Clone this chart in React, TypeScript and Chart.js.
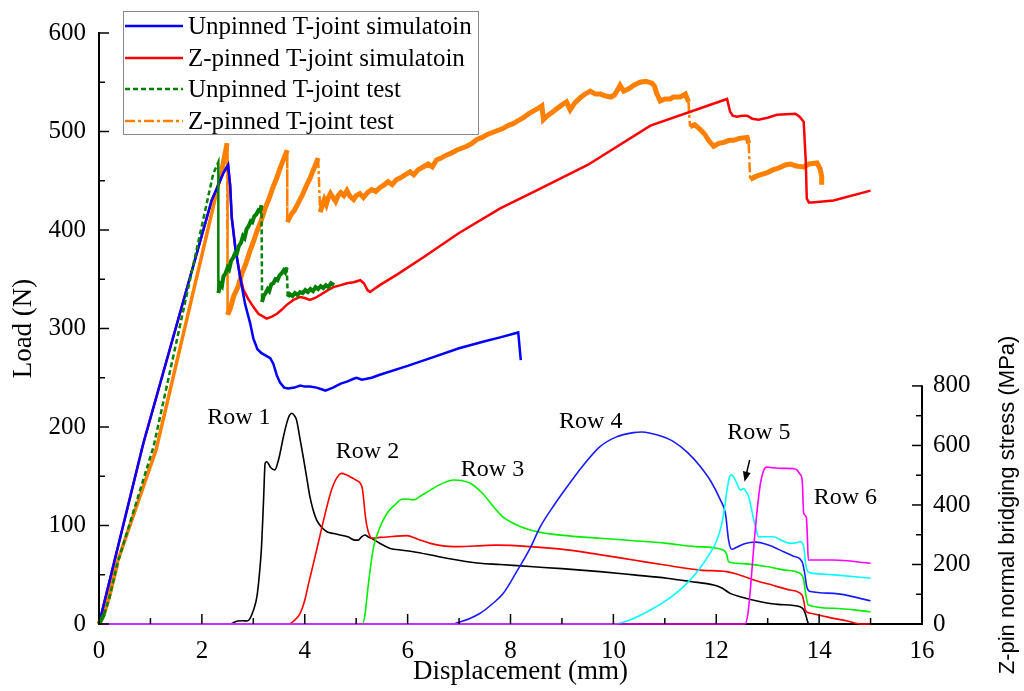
import React, { useEffect, useRef } from 'react';
import { Chart, registerables } from 'chart.js';

Chart.register(...registerables);

type P = [number, number];

// ---------- axis ticks ----------
const xTicks = [0, 2, 4, 6, 8, 10, 12, 14, 16];
const xMinorTicks = [1, 3, 5, 7, 9, 11, 13, 15];
const loadTicks = [0, 100, 200, 300, 400, 500, 600];
const loadMinorTicks = [50, 150, 250, 350, 450, 550];
const stressTicks = [0, 200, 400, 600, 800];
const stressMinorTicks = [100, 300, 500, 700];
const stressAxisMax = 1986; // right axis value at the top of the plot

// ---------- load curves (x: mm, y: N) ----------
const unpinnedSim: P[] = [
  [0, 0], [0.86, 183], [2.19, 430], [2.42, 458], [2.51, 466], [2.55, 445], [2.58, 413], [2.65, 382],
  [2.74, 353], [2.84, 325], [2.94, 305], [3.0, 290], [3.08, 279], [3.16, 275], [3.26, 272], [3.33, 270],
  [3.39, 264], [3.46, 252], [3.52, 245], [3.6, 240], [3.68, 239], [3.8, 240], [3.91, 242], [4.0, 241],
  [4.1, 241], [4.23, 240], [4.4, 237], [4.55, 240], [4.7, 244], [4.82, 246], [4.95, 249], [5.01, 250],
  [5.11, 248], [5.3, 250], [5.46, 253], [6.0, 262], [6.5, 271], [7.0, 280], [7.5, 287], [7.8, 291],
  [8.15, 296], [8.2, 268],
];

const zpinnedSim: P[] = [
  [0, 0], [0.86, 183], [2.19, 430], [2.42, 458], [2.51, 466], [2.55, 445], [2.58, 413], [2.65, 382],
  [2.74, 354], [2.81, 339], [2.9, 330], [3.0, 322], [3.1, 315], [3.26, 310], [3.36, 312], [3.46, 315],
  [3.55, 319], [3.65, 324], [3.78, 329], [3.91, 332], [4.0, 331], [4.1, 329], [4.2, 331], [4.3, 334],
  [4.45, 339], [4.56, 342], [4.7, 344], [4.82, 346], [4.95, 347], [5.08, 349], [5.15, 346], [5.22, 339],
  [5.27, 337], [5.35, 340], [5.46, 344], [5.8, 355], [6.3, 372], [7.0, 397], [7.8, 422], [8.5, 440],
  [9.5, 466], [10.72, 506], [12.21, 533], [12.27, 520], [12.32, 516], [12.4, 515], [12.5, 516], [12.6, 516],
  [12.7, 513], [12.82, 512], [13.0, 514], [13.18, 517], [13.54, 518], [13.62, 515], [13.7, 510], [13.74, 470],
  [13.76, 432], [13.8, 428], [13.86, 428], [14.28, 430], [15.0, 440],
];

const unpinnedTest: P[] = [
  [0, 0], [0.1, 10], [0.2, 26], [0.35, 60], [1.06, 180], [2.22, 457], [2.32, 469], [2.32, 336],
  [2.36, 345], [2.39, 343], [2.42, 353], [2.46, 356], [2.5, 362], [2.53, 360], [2.57, 369], [2.61, 372],
  [2.65, 377], [2.68, 376], [2.72, 384], [2.76, 387], [2.8, 394], [2.83, 392], [2.87, 401], [2.91, 404],
  [2.95, 409], [2.98, 408], [3.02, 414], [3.06, 416], [3.1, 420], [3.13, 419], [3.16, 425], [3.17, 327],
  [3.2, 333], [3.24, 336], [3.28, 340], [3.31, 338], [3.35, 345], [3.39, 346], [3.43, 350], [3.47, 349],
  [3.51, 354], [3.55, 356], [3.59, 359], [3.62, 357], [3.65, 362], [3.67, 332], [3.71, 335], [3.76, 333],
  [3.81, 336], [3.86, 334], [3.91, 337], [3.96, 336], [4.01, 339], [4.06, 337], [4.11, 340], [4.16, 338],
  [4.21, 342], [4.26, 340], [4.31, 343], [4.36, 341], [4.41, 344], [4.46, 342], [4.51, 346], [4.57, 344],
];

const zpinnedTest: P[] = [
  [0, 0], [0.1, 12], [0.2, 30], [0.35, 62], [1.11, 177], [2.39, 461], [2.49, 488], [2.5, 314],
  [2.55, 320], [2.62, 333], [2.7, 342], [2.78, 356], [2.85, 365], [2.93, 378], [3.0, 388], [3.08, 400],
  [3.15, 409], [3.23, 422], [3.3, 431], [3.38, 443], [3.45, 452], [3.53, 464], [3.62, 476], [3.66, 481],
  [3.66, 408], [3.7, 412], [3.75, 417], [3.8, 420], [3.85, 425], [3.9, 430], [3.95, 435], [4.0, 441],
  [4.05, 447], [4.1, 452], [4.15, 459], [4.2, 465], [4.26, 473], [4.3, 418], [4.34, 425], [4.38, 431],
  [4.42, 426], [4.46, 433], [4.5, 437], [4.55, 433], [4.6, 429], [4.65, 435], [4.7, 438], [4.76, 435],
  [4.82, 440], [4.88, 434], [4.95, 431], [5.0, 435], [5.07, 437], [5.14, 433], [5.22, 438], [5.3, 441],
  [5.38, 439], [5.46, 443], [5.55, 446], [5.62, 449], [5.7, 446], [5.78, 451], [5.86, 453], [5.95, 456],
  [6.05, 459], [6.12, 456], [6.2, 461], [6.3, 464], [6.4, 467], [6.48, 464], [6.56, 471], [6.65, 473],
  [6.75, 476], [6.85, 478], [6.95, 481], [7.05, 483], [7.15, 485], [7.25, 488], [7.35, 492], [7.45, 494],
  [7.55, 497], [7.65, 499], [7.75, 501], [7.85, 503], [7.95, 506], [8.05, 508], [8.15, 511], [8.25, 514],
  [8.35, 518], [8.45, 521], [8.55, 524], [8.61, 526], [8.64, 512], [8.72, 516], [8.8, 519], [8.9, 523],
  [9.0, 527], [9.09, 530], [9.16, 522], [9.25, 529], [9.35, 534], [9.45, 538], [9.55, 541], [9.65, 538],
  [9.75, 538], [9.85, 536], [9.95, 535], [10.02, 537], [10.1, 544], [10.13, 547], [10.2, 541], [10.29, 543],
  [10.4, 547], [10.52, 550], [10.63, 551], [10.75, 549], [10.8, 546], [10.84, 539], [10.91, 531], [11.0, 533],
  [11.1, 533], [11.17, 535], [11.3, 535], [11.4, 538], [11.46, 530], [11.49, 505], [11.58, 507], [11.69, 502],
  [11.78, 497], [11.85, 491], [11.95, 485], [12.05, 488], [12.15, 489], [12.25, 491], [12.34, 491], [12.45, 493],
  [12.6, 494], [12.63, 488], [12.66, 451], [12.75, 454], [12.85, 456], [12.98, 458], [13.1, 461], [13.22, 463],
  [13.34, 466], [13.44, 467], [13.55, 465], [13.7, 464], [13.8, 467], [13.96, 468], [14.02, 462], [14.05, 454],
  [14.05, 446],
];

// ---------- Z-pin bridging stress (x: mm, y: MPa) ----------
const row1: P[] = [
  [0, 0], [2.55, 0], [2.62, 5], [2.7, 10], [2.8, 11], [2.88, 10], [2.94, 20], [3.0, 45], [3.07, 92],
  [3.12, 170], [3.16, 260], [3.2, 420], [3.23, 540], [3.26, 545], [3.34, 525], [3.42, 518], [3.48, 545],
  [3.52, 574], [3.58, 625], [3.65, 675], [3.7, 700], [3.75, 708], [3.8, 700], [3.84, 686], [3.9, 630],
  [3.97, 562], [4.04, 490], [4.1, 428], [4.16, 385], [4.23, 350], [4.33, 325], [4.43, 310], [4.56, 304],
  [4.69, 299], [4.85, 292], [4.97, 282], [5.04, 282], [5.1, 292], [5.17, 299], [5.24, 292], [5.3, 288],
  [5.45, 272], [5.66, 254], [5.9, 248], [6.11, 243], [6.45, 232], [6.76, 221], [7.1, 211], [7.41, 204],
  [7.8, 200], [8.38, 193], [9.0, 186], [9.74, 176], [10.4, 165], [11.04, 154], [11.5, 143], [11.95, 131],
  [12.1, 122], [12.27, 103], [12.5, 90], [12.86, 75], [13.2, 66], [13.63, 58], [13.7, 48], [13.73, 36],
  [13.76, 18], [13.79, 2], [13.82, 0], [15.0, 0],
];

const row2: P[] = [
  [0, 0], [3.65, 0], [3.72, 2], [3.8, 12], [3.91, 36], [4.0, 80], [4.08, 140], [4.17, 204], [4.3, 300],
  [4.43, 394], [4.52, 450], [4.62, 490], [4.72, 506], [4.8, 502], [4.88, 495], [4.98, 485], [5.08, 473],
  [5.12, 455], [5.14, 428], [5.17, 375], [5.21, 327], [5.26, 298], [5.3, 288], [5.46, 291], [5.7, 294],
  [5.98, 297], [6.2, 285], [6.44, 271], [6.89, 260], [7.3, 262], [7.73, 265], [8.38, 260], [9.1, 249],
  [9.7, 234], [10.39, 215], [11.0, 198], [11.69, 181], [12.2, 176], [12.45, 165], [12.73, 148], [13.1, 130],
  [13.44, 114], [13.67, 97], [13.71, 70], [13.73, 47], [13.83, 36], [14.05, 28], [14.28, 19], [14.55, 10],
  [14.8, 0], [15.0, 0],
];

const row3: P[] = [
  [0, 0], [5.12, 0], [5.17, 30], [5.21, 92], [5.27, 180], [5.34, 260], [5.45, 320], [5.6, 372], [5.75, 400],
  [5.89, 419], [6.0, 420], [6.11, 417], [6.25, 430], [6.44, 450], [6.65, 470], [6.89, 484], [7.05, 482],
  [7.22, 473], [7.45, 440], [7.67, 394], [7.85, 360], [8.06, 338], [8.38, 316], [8.8, 302], [9.74, 288],
  [10.4, 280], [11.04, 271], [11.6, 260], [12.14, 249], [12.2, 235], [12.24, 209], [12.5, 203], [12.98, 193],
  [13.3, 182], [13.63, 170], [13.7, 148], [13.74, 100], [13.79, 64], [14.28, 53], [15.0, 41],
];

const row4: P[] = [
  [0, 0], [6.9, 0], [6.96, 4], [7.2, 18], [7.41, 36], [7.65, 68], [7.86, 103], [8.1, 170], [8.38, 254],
  [8.58, 327], [8.85, 400], [9.1, 461], [9.4, 530], [9.74, 596], [10.05, 628], [10.39, 643], [10.55, 645],
  [10.72, 641], [10.95, 630], [11.17, 613], [11.45, 575], [11.69, 529], [11.9, 478], [12.08, 417], [12.18, 370],
  [12.24, 282], [12.3, 251], [12.4, 258], [12.55, 270], [12.77, 275], [13.0, 266], [13.31, 243], [13.5, 228],
  [13.67, 209], [13.72, 170], [13.76, 125], [13.83, 109], [14.28, 103], [15.0, 78],
];

const row5: P[] = [
  [0, 0], [10.0, 0], [10.3, 12], [10.72, 47], [11.05, 82], [11.36, 125], [11.65, 180], [11.88, 238],
  [12.02, 285], [12.11, 338], [12.17, 400], [12.2, 439], [12.26, 495], [12.3, 501], [12.35, 490], [12.4, 473],
  [12.47, 450], [12.53, 455], [12.58, 445], [12.63, 428], [12.68, 390], [12.73, 350], [12.78, 315], [12.82, 293],
  [13.11, 293], [13.3, 278], [13.44, 271], [13.6, 275], [13.63, 277], [13.7, 260], [13.74, 200], [13.78, 176],
  [13.89, 170], [14.28, 165], [15.0, 154],
];

const row6: P[] = [
  [0, 0], [12.56, 0], [12.62, 40], [12.67, 130], [12.73, 260], [12.8, 390], [12.86, 473], [12.92, 515],
  [12.98, 527], [13.1, 525], [13.31, 523], [13.5, 522], [13.57, 518], [13.62, 505], [13.67, 484], [13.7, 372],
  [13.75, 360], [13.77, 300], [13.79, 215], [14.28, 215], [15.0, 204],
];

// ---------- annotations ----------
const rowLabels = ['Row 1', 'Row 2', 'Row 3', 'Row 4', 'Row 5', 'Row 6'];
const rowLabelX = [2.72, 5.22, 7.65, 9.56, 12.83, 14.51];
const rowLabelY = [692, 578, 518, 679, 642, 423];
const arrowFrom: P = [12.65, 551];
const arrowTo: P = [12.55, 478];

const legendLabels = [
  'Unpinned T-joint simulatoin',
  'Z-pinned T-joint simulatoin',
  'Unpinned T-joint test',
  'Z-pinned T-joint test',
];

const SERIF = "'Liberation Serif', 'Times New Roman', serif";
const SANS = "'Liberation Sans', Arial, sans-serif";

const toXY = (arr: P[]) => arr.map(([x, y]) => ({ x, y }));

const decorPlugin = {
  id: 'decor',
  afterDatasetsDraw(chart: any) {
    const { ctx } = chart;
    const xs = chart.scales.x;
    const yl = chart.scales.y;
    const yr = chart.scales.y2;
    const left = chart.chartArea.left;
    const right = chart.chartArea.right;
    const bottom = chart.chartArea.bottom;
    const line = (x1: number, y1: number, x2: number, y2: number) => {
      ctx.beginPath();
      ctx.moveTo(x1, y1);
      ctx.lineTo(x2, y2);
      ctx.stroke();
    };
    ctx.save();
    ctx.strokeStyle = '#000';
    ctx.lineWidth = 1.5;
    xTicks.forEach((v) => { const p = xs.getPixelForValue(v); line(p, bottom, p, bottom - 10); });
    xMinorTicks.forEach((v) => { const p = xs.getPixelForValue(v); line(p, bottom, p, bottom - 6); });
    loadTicks.forEach((v) => { const p = yl.getPixelForValue(v); line(left, p, left + 10, p); });
    loadMinorTicks.forEach((v) => { const p = yl.getPixelForValue(v); line(left, p, left + 6, p); });
    stressTicks.forEach((v) => { const p = yr.getPixelForValue(v); line(right, p, right - 10, p); });
    stressMinorTicks.forEach((v) => { const p = yr.getPixelForValue(v); line(right, p, right - 6, p); });
    // partial right axis line (0..800)
    ctx.lineWidth = 2;
    line(right, yr.getPixelForValue(0) + 1, right, yr.getPixelForValue(stressTicks[stressTicks.length - 1]) - 0.75);

    // row labels
    ctx.fillStyle = '#000';
    ctx.font = `24px ${SERIF}`;
    ctx.textAlign = 'center';
    ctx.textBaseline = 'middle';
    rowLabels.forEach((t, i) => {
      ctx.fillText(t, xs.getPixelForValue(rowLabelX[i]), yr.getPixelForValue(rowLabelY[i]));
    });
    // arrow for Row 5
    const ax1 = xs.getPixelForValue(arrowFrom[0]);
    const ay1 = yr.getPixelForValue(arrowFrom[1]);
    const ax2 = xs.getPixelForValue(arrowTo[0]);
    const ay2 = yr.getPixelForValue(arrowTo[1]);
    const ang = Math.atan2(ay2 - ay1, ax2 - ax1);
    ctx.lineWidth = 1.5;
    line(ax1, ay1, ax2 - 6 * Math.cos(ang), ay2 - 6 * Math.sin(ang));
    ctx.beginPath();
    ctx.moveTo(ax2, ay2);
    ctx.lineTo(ax2 - 10 * Math.cos(ang) + 4 * Math.sin(ang), ay2 - 10 * Math.sin(ang) - 4 * Math.cos(ang));
    ctx.lineTo(ax2 - 10 * Math.cos(ang) - 4 * Math.sin(ang), ay2 - 10 * Math.sin(ang) + 4 * Math.cos(ang));
    ctx.closePath();
    ctx.fill();

    // bottom axis title
    ctx.font = `27px ${SERIF}`;
    ctx.textAlign = 'center';
    ctx.textBaseline = 'middle';
    ctx.fillText('Displacement (mm)', (xs.left + xs.right) / 2 + 10, 672);

    // right axis title, centred on the 0..800 part of the axis
    ctx.save();
    ctx.font = `22px ${SANS}`;
    const cy = (yr.getPixelForValue(0) + yr.getPixelForValue(800)) / 2;
    ctx.translate(1008, cy);
    ctx.rotate(-Math.PI / 2);
    ctx.fillText('Z-pin normal bridging stress (MPa)', 0, 0);
    ctx.restore();

    // legend
    const bx = 123, by = 11, bw = 355, bh = 123;
    ctx.fillStyle = '#fff';
    ctx.fillRect(bx, by, bw, bh);
    ctx.strokeStyle = '#8a8a8a';
    ctx.lineWidth = 1;
    ctx.strokeRect(bx + 0.5, by + 0.5, bw, bh);
    const rowsY = [26, 58, 89, 121];
    const ds = chart.data.datasets;
    ctx.font = `25px ${SERIF}`;
    ctx.textAlign = 'left';
    ctx.textBaseline = 'middle';
    legendLabels.forEach((t, i) => {
      const d = ds[i];
      ctx.strokeStyle = d.borderColor;
      ctx.lineWidth = 2.5;
      ctx.setLineDash(d.legendDash || []);
      line(125, rowsY[i], 183, rowsY[i]);
      ctx.setLineDash([]);
      ctx.fillStyle = '#000';
      ctx.fillText(t, 188, rowsY[i] + 1);
    });
    ctx.restore();
  },
};

export default function App() {
  const ref = useRef<HTMLCanvasElement>(null);
  useEffect(() => {
    const greenDash = [5, 3];
    const orangeDash = [10, 3, 3, 3];
    const segLen = (c: any) => Math.hypot(c.p1.x - c.p0.x, c.p1.y - c.p0.y);
    const isDrop = (c: any) => Math.abs(c.p1.x - c.p0.x) < 3 && Math.abs(c.p1.y - c.p0.y) > 20;
    const loadBase = { pointRadius: 0, fill: false, tension: 0, yAxisID: 'y', clip: false as any };
    const stressBase = {
      pointRadius: 0, fill: false, yAxisID: 'y2', borderWidth: 1.6,
      cubicInterpolationMode: 'monotone' as const, clip: false as any,
    };
    const chart = new Chart(ref.current as HTMLCanvasElement, {
      type: 'line',
      data: {
        datasets: [
          { ...loadBase, label: legendLabels[0], data: toXY(unpinnedSim), borderColor: '#0000ff', borderWidth: 2.5, order: 2 },
          { ...loadBase, label: legendLabels[1], data: toXY(zpinnedSim), borderColor: '#ff0000', borderWidth: 2.5, order: 3 },
          {
            ...loadBase, label: legendLabels[2], data: toXY(unpinnedTest), borderColor: '#008000', borderWidth: 2.5, order: 1,
            legendDash: greenDash,
            segment: {
              borderDash: (c: any) => (segLen(c) > 12 ? greenDash : []),
              borderWidth: (c: any) => (segLen(c) > 12 ? 2.5 : 4),
            },
          } as any,
          {
            ...loadBase, label: legendLabels[3], data: toXY(zpinnedTest), borderColor: '#ff8000', borderWidth: 4, order: 4,
            legendDash: orangeDash,
            segment: {
              borderDash: (c: any) => (isDrop(c) ? orangeDash : []),
              borderWidth: (c: any) => (isDrop(c) ? 2.5 : (segLen(c) > 60 ? 3.5 : 5)),
            },
          } as any,
          { ...stressBase, label: 'Row 1', data: toXY(row1), borderColor: '#000000', order: 10 },
          { ...stressBase, label: 'Row 2', data: toXY(row2), borderColor: '#ff0000', order: 9 },
          { ...stressBase, label: 'Row 3', data: toXY(row3), borderColor: '#00ee00', order: 8 },
          { ...stressBase, label: 'Row 4', data: toXY(row4), borderColor: '#1a1aff', order: 7 },
          { ...stressBase, label: 'Row 5', data: toXY(row5), borderColor: '#00ffff', order: 6 },
          { ...stressBase, label: 'Row 6', data: toXY(row6), borderColor: '#ff00ff', order: 5 },
        ] as any,
      },
      options: {
        responsive: false,
        animation: false,
        devicePixelRatio: 1,
        layout: { padding: { top: 33, left: 0, right: 0, bottom: 0 } },
        plugins: { legend: { display: false }, tooltip: { enabled: false } },
        scales: {
          x: {
            type: 'linear',
            min: 0,
            max: 16,
            afterFit: (s: any) => { s.height = 67; },
            afterBuildTicks: (s: any) => { s.ticks = xTicks.map((v) => ({ value: v })); },
            grid: { display: false, drawTicks: false },
            border: { display: true, color: '#000', width: 2 },
            ticks: { color: '#000', padding: 12, maxRotation: 0, font: { family: SERIF, size: 25 } },
          },
          y: {
            type: 'linear',
            position: 'left',
            min: 0,
            max: 600,
            afterFit: (s: any) => { s.width = 99; },
            afterBuildTicks: (s: any) => { s.ticks = loadTicks.map((v) => ({ value: v })); },
            grid: { display: false, drawTicks: false },
            border: { display: true, color: '#000', width: 2 },
            ticks: { color: '#000', padding: 13, font: { family: SERIF, size: 25 } },
            title: {
              display: true,
              text: 'Load (N)',
              color: '#000',
              font: { family: SERIF, size: 27 },
              padding: { top: 8, bottom: 0 },
            },
          },
          y2: {
            type: 'linear',
            position: 'right',
            min: 0,
            max: stressAxisMax,
            afterFit: (s: any) => { s.width = 102; },
            afterBuildTicks: (s: any) => { s.ticks = stressTicks.map((v) => ({ value: v })); },
            grid: { display: false, drawTicks: false },
            border: { display: false },
            ticks: { color: '#000', padding: 11, font: { family: SERIF, size: 25 } },
          },
        },
      } as any,
      plugins: [decorPlugin],
    });
    return () => chart.destroy();
  }, []);
  return (
    <div style={{ position: 'absolute', left: 0, top: 0, width: 1024, height: 691, background: '#fff' }}>
      <canvas ref={ref} width={1024} height={691} style={{ display: 'block' }} />
    </div>
  );
}
